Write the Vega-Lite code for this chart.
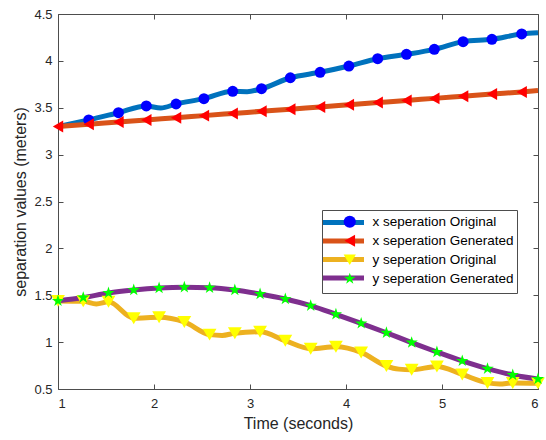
{
  "$schema": "https://vega.github.io/schema/vega-lite/v6.json",
  "width": 480,
  "height": 375,
  "autosize": "none",
  "padding": {"left": 58, "top": 14, "right": 8, "bottom": 51},
  "background": "white",
  "config": {
    "view": {"stroke": null},
    "font": "Liberation Sans",
    "axis": {
      "grid": false,
      "domainColor": "#4d4d4d",
      "domainWidth": 1,
      "tickColor": "#4d4d4d",
      "tickWidth": 1,
      "tickSize": -5,
      "labelColor": "#262626",
      "labelFont": "Liberation Sans",
      "labelFontSize": 13,
      "titleColor": "#262626",
      "titleFont": "Liberation Sans",
      "titleFontSize": 16,
      "titleFontWeight": "normal"
    }
  },
  "data": {
    "values": [
      {"series": "x seperation Original", "time": 1.00, "value": 3.300, "marker": false},
      {"series": "x seperation Original", "time": 1.32, "value": 3.370, "marker": true},
      {"series": "x seperation Original", "time": 1.63, "value": 3.447, "marker": true},
      {"series": "x seperation Original", "time": 1.92, "value": 3.519, "marker": true},
      {"series": "x seperation Original", "time": 2.07, "value": 3.497, "marker": false},
      {"series": "x seperation Original", "time": 2.23, "value": 3.540, "marker": true},
      {"series": "x seperation Original", "time": 2.52, "value": 3.597, "marker": true},
      {"series": "x seperation Original", "time": 2.82, "value": 3.675, "marker": true},
      {"series": "x seperation Original", "time": 2.97, "value": 3.672, "marker": false},
      {"series": "x seperation Original", "time": 3.12, "value": 3.703, "marker": true},
      {"series": "x seperation Original", "time": 3.42, "value": 3.820, "marker": true},
      {"series": "x seperation Original", "time": 3.73, "value": 3.878, "marker": true},
      {"series": "x seperation Original", "time": 4.03, "value": 3.945, "marker": true},
      {"series": "x seperation Original", "time": 4.33, "value": 4.023, "marker": true},
      {"series": "x seperation Original", "time": 4.63, "value": 4.070, "marker": true},
      {"series": "x seperation Original", "time": 4.92, "value": 4.123, "marker": true},
      {"series": "x seperation Original", "time": 5.22, "value": 4.205, "marker": true},
      {"series": "x seperation Original", "time": 5.52, "value": 4.230, "marker": true},
      {"series": "x seperation Original", "time": 5.83, "value": 4.287, "marker": true},
      {"series": "x seperation Original", "time": 6.00, "value": 4.300, "marker": false},

      {"series": "x seperation Generated", "time": 1.00, "value": 3.300, "marker": true},
      {"series": "x seperation Generated", "time": 1.32, "value": 3.324, "marker": true},
      {"series": "x seperation Generated", "time": 1.63, "value": 3.348, "marker": true},
      {"series": "x seperation Generated", "time": 1.92, "value": 3.370, "marker": true},
      {"series": "x seperation Generated", "time": 2.23, "value": 3.394, "marker": true},
      {"series": "x seperation Generated", "time": 2.52, "value": 3.416, "marker": true},
      {"series": "x seperation Generated", "time": 2.82, "value": 3.439, "marker": true},
      {"series": "x seperation Generated", "time": 3.12, "value": 3.462, "marker": true},
      {"series": "x seperation Generated", "time": 3.42, "value": 3.485, "marker": true},
      {"series": "x seperation Generated", "time": 3.73, "value": 3.509, "marker": true},
      {"series": "x seperation Generated", "time": 4.03, "value": 3.532, "marker": true},
      {"series": "x seperation Generated", "time": 4.33, "value": 3.555, "marker": true},
      {"series": "x seperation Generated", "time": 4.63, "value": 3.578, "marker": true},
      {"series": "x seperation Generated", "time": 4.92, "value": 3.600, "marker": true},
      {"series": "x seperation Generated", "time": 5.22, "value": 3.623, "marker": true},
      {"series": "x seperation Generated", "time": 5.52, "value": 3.646, "marker": true},
      {"series": "x seperation Generated", "time": 5.83, "value": 3.669, "marker": true},
      {"series": "x seperation Generated", "time": 6.00, "value": 3.683, "marker": false},

      {"series": "y seperation Original", "time": 1.000, "value": 1.440, "marker": true},
      {"series": "y seperation Original", "time": 1.263, "value": 1.435, "marker": true},
      {"series": "y seperation Original", "time": 1.400, "value": 1.408, "marker": false},
      {"series": "y seperation Original", "time": 1.526, "value": 1.430, "marker": true},
      {"series": "y seperation Original", "time": 1.789, "value": 1.255, "marker": true},
      {"series": "y seperation Original", "time": 2.053, "value": 1.265, "marker": true},
      {"series": "y seperation Original", "time": 2.316, "value": 1.215, "marker": true},
      {"series": "y seperation Original", "time": 2.579, "value": 1.080, "marker": true},
      {"series": "y seperation Original", "time": 2.710, "value": 1.072, "marker": false},
      {"series": "y seperation Original", "time": 2.842, "value": 1.095, "marker": true},
      {"series": "y seperation Original", "time": 3.105, "value": 1.110, "marker": true},
      {"series": "y seperation Original", "time": 3.368, "value": 1.015, "marker": true},
      {"series": "y seperation Original", "time": 3.632, "value": 0.930, "marker": true},
      {"series": "y seperation Original", "time": 3.895, "value": 0.950, "marker": true},
      {"series": "y seperation Original", "time": 4.158, "value": 0.890, "marker": true},
      {"series": "y seperation Original", "time": 4.421, "value": 0.745, "marker": true},
      {"series": "y seperation Original", "time": 4.550, "value": 0.712, "marker": false},
      {"series": "y seperation Original", "time": 4.684, "value": 0.705, "marker": true},
      {"series": "y seperation Original", "time": 4.947, "value": 0.740, "marker": true},
      {"series": "y seperation Original", "time": 5.211, "value": 0.655, "marker": true},
      {"series": "y seperation Original", "time": 5.474, "value": 0.565, "marker": true},
      {"series": "y seperation Original", "time": 5.600, "value": 0.553, "marker": false},
      {"series": "y seperation Original", "time": 5.737, "value": 0.565, "marker": true},
      {"series": "y seperation Original", "time": 6.000, "value": 0.560, "marker": true},

      {"series": "y seperation Generated", "time": 1.000, "value": 1.440, "marker": true},
      {"series": "y seperation Generated", "time": 1.263, "value": 1.475, "marker": true},
      {"series": "y seperation Generated", "time": 1.526, "value": 1.525, "marker": true},
      {"series": "y seperation Generated", "time": 1.789, "value": 1.556, "marker": true},
      {"series": "y seperation Generated", "time": 2.053, "value": 1.577, "marker": true},
      {"series": "y seperation Generated", "time": 2.316, "value": 1.585, "marker": true},
      {"series": "y seperation Generated", "time": 2.579, "value": 1.580, "marker": true},
      {"series": "y seperation Generated", "time": 2.842, "value": 1.556, "marker": true},
      {"series": "y seperation Generated", "time": 3.105, "value": 1.513, "marker": true},
      {"series": "y seperation Generated", "time": 3.368, "value": 1.460, "marker": true},
      {"series": "y seperation Generated", "time": 3.632, "value": 1.389, "marker": true},
      {"series": "y seperation Generated", "time": 3.895, "value": 1.297, "marker": true},
      {"series": "y seperation Generated", "time": 4.158, "value": 1.200, "marker": true},
      {"series": "y seperation Generated", "time": 4.421, "value": 1.100, "marker": true},
      {"series": "y seperation Generated", "time": 4.684, "value": 0.995, "marker": true},
      {"series": "y seperation Generated", "time": 4.947, "value": 0.895, "marker": true},
      {"series": "y seperation Generated", "time": 5.211, "value": 0.800, "marker": true},
      {"series": "y seperation Generated", "time": 5.474, "value": 0.717, "marker": true},
      {"series": "y seperation Generated", "time": 5.737, "value": 0.650, "marker": true},
      {"series": "y seperation Generated", "time": 6.000, "value": 0.607, "marker": true}
    ]
  },
  "layer": [
    {
      "mark": {"type": "line", "strokeWidth": 5, "interpolate": "monotone", "clip": true},
      "encoding": {
        "x": {
          "field": "time", "type": "quantitative",
          "scale": {"domain": [1, 6], "nice": false, "zero": false},
          "axis": {"orient": "bottom", "values": [1, 2, 3, 4, 5, 6], "format": "~g",
                   "labelPadding": 13, "title": "Time (seconds)", "titlePadding": 5}
        },
        "y": {
          "field": "value", "type": "quantitative",
          "scale": {"domain": [0.5, 4.5], "nice": false, "zero": false},
          "axis": {"orient": "left", "values": [0.5, 1, 1.5, 2, 2.5, 3, 3.5, 4, 4.5], "format": "~g",
                   "labelPadding": 11, "title": "separation values (meters)", "titlePadding": 5}
        },
        "color": {
          "field": "series", "type": "nominal",
          "scale": {
            "domain": ["x seperation Generated", "x seperation Original", "y seperation Original", "y seperation Generated"],
            "range": ["#D95319", "#0072BD", "#EDB120", "#7E2F8E"]
          },
          "legend": {
            "orient": "none", "legendX": 264, "legendY": 196, "title": null,
            "values": ["x seperation Original", "x seperation Generated", "y seperation Original", "y seperation Generated"],
            "padding": 5, "rowPadding": -2.5,
            "strokeColor": "#4d4d4d", "fillColor": "white",
            "symbolType": "M-4.1,0L4.1,0", "symbolSize": 100, "symbolStrokeWidth": 5, "symbolOffset": 9,
            "labelFont": "Liberation Sans", "labelFontSize": 13.5, "labelOpacity": 0,
            "labelOffset": 19, "labelLimit": 300, "zindex": 1
          }
        }
      }
    },
    {
      "transform": [{"filter": "datum.marker"}],
      "mark": {"type": "point", "filled": true, "opacity": 1, "strokeWidth": 0},
      "encoding": {
        "x": {"field": "time", "type": "quantitative", "axis": null},
        "y": {"field": "value", "type": "quantitative", "axis": null},
        "fill": {
          "field": "series", "type": "nominal",
          "scale": {
            "domain": ["x seperation Original", "x seperation Generated", "y seperation Original", "y seperation Generated"],
            "range": ["#0000FF", "#FF0000", "#FFFF00", "#00FF00"]
          },
          "legend": {
            "orient": "none", "legendX": 280, "legendY": 196, "title": null,
            "padding": 5, "rowPadding": 4, "symbolSize": 150, "symbolStrokeWidth": 0,
            "labelFont": "Liberation Sans", "labelFontSize": 13.5, "labelColor": "#000000",
            "labelOffset": 16, "labelLimit": 300, "zindex": 2
          }
        },
        "shape": {
          "field": "series", "type": "nominal",
          "scale": {
            "domain": ["x seperation Original", "x seperation Generated", "y seperation Original", "y seperation Generated"],
            "range": ["circle", "triangle-left", "triangle-down", "M0,-1L0.2245,-0.309L0.951,-0.309L0.363,0.118L0.588,0.809L0,0.382L-0.588,0.809L-0.363,0.118L-0.951,-0.309L-0.2245,-0.309Z"]
          },
          "legend": {
            "orient": "none", "legendX": 280, "legendY": 196, "title": null,
            "padding": 5, "rowPadding": 4, "symbolSize": 150, "symbolStrokeWidth": 0,
            "labelFont": "Liberation Sans", "labelFontSize": 13.5, "labelColor": "#000000",
            "labelOffset": 16, "labelLimit": 300, "zindex": 2
          }
        },
        "size": {
          "field": "series", "type": "nominal",
          "scale": {
            "domain": ["x seperation Original", "x seperation Generated", "y seperation Generated", "y seperation Original"],
            "range": [120, 190, 210, 160]
          },
          "legend": null
        }
      }
    },
    {
      "transform": [{"filter": "datum.marker"}],
      "mark": {"type": "point", "opacity": 0},
      "encoding": {
        "x": {
          "field": "time", "type": "quantitative",
          "axis": {"orient": "top", "values": [1, 2, 3, 4, 5, 6], "labels": false, "title": null}
        },
        "y": {
          "field": "value", "type": "quantitative",
          "axis": {"orient": "right", "values": [0.5, 1, 1.5, 2, 2.5, 3, 3.5, 4, 4.5], "labels": false, "title": null}
        }
      }
    }
  ],
  "resolve": {"axis": {"x": "independent", "y": "independent"}}
}
